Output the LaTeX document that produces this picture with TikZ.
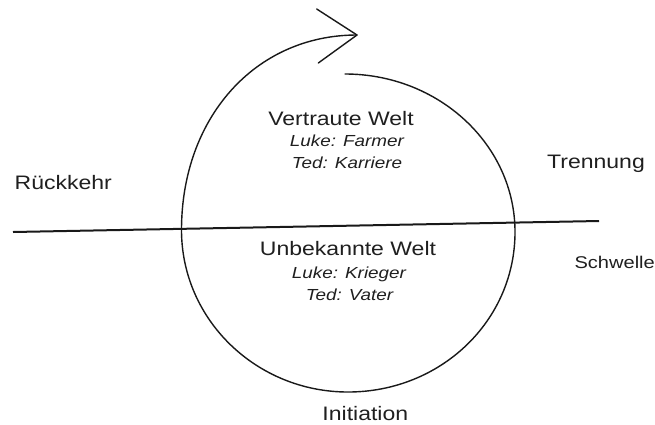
\documentclass[tikz,border=0pt]{standalone}
\usepackage{fontspec}
\setmainfont{Liberation Sans}[FakeStretch=1.18]
\begin{document}
\begin{tikzpicture}[x=1pt,y=-1pt,
  big/.style={anchor=base,inner sep=0pt,font=\fontsize{19.5}{23}\selectfont,text=black!88},
  mid/.style={anchor=base,inner sep=0pt,font=\fontsize{17}{20}\selectfont,text=black!88},
  ital/.style={anchor=base,inner sep=0pt,font=\fontsize{16}{19}\selectfont\itshape,text=black!88},
  curve/.style={line width=1.4pt,black!90,line cap=round,line join=round}]
\useasboundingbox (0,0) rectangle (655,424);
% key points of the spiral
\coordinate (ptop) at (345,74);
\coordinate (pright) at (515,232);
\coordinate (pbottom) at (348,392);
\coordinate (pleft) at (181.5,230);
\coordinate (tip) at (357,35);
% spiral circle
\draw[curve] (ptop)
  .. controls (438.8,74) and (515,144.8) .. (pright)
  .. controls (515,321) and (440.7,392) .. (pbottom)
  .. controls (256.6,392) and (181.5,320) .. (pleft)
  .. controls (181.5,118) and (255,35) .. (tip);
% open arrowhead
\coordinate (armA) at (316.7,9);
\coordinate (armB) at (318.3,63);
\draw[curve] (armA) -- (tip) -- (armB);
% threshold line
\coordinate (lineL) at (13,232);
\coordinate (lineR) at (599,221);
\draw[line width=2pt,black!90] (lineL) -- (lineR);
% texts
\node[big] (vw) at (341,125) {Vertraute Welt};
\node[ital] (lf) at (347,146.7) {Luke: Farmer};
\node[ital] (tk) at (347,168) {Ted: Karriere};
\node[big] (uw) at (348,255) {Unbekannte Welt};
\node[ital] (lk) at (349,278.3) {Luke: Krieger};
\node[ital] (tv) at (349.5,300) {Ted: Vater};
\node[big] (ini) at (365.3,420) {Initiation};
\node[big] (rk) at (63.3,189.3) {Rückkehr};
\node[big] (tr) at (596,168.3) {Trennung};
\node[mid] (sw) at (614.7,268.3) {Schwelle};
\end{tikzpicture}
\end{document}
